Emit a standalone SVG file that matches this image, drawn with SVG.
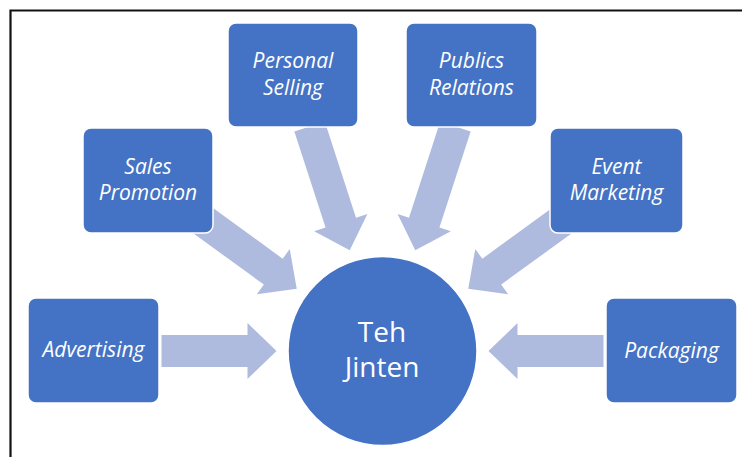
<svg xmlns="http://www.w3.org/2000/svg" width="742" height="457" viewBox="0 0 742 457">
<style>
.box{fill:#4472C4;stroke:#FFFFFF;stroke-width:1.5}
.arr{fill:#AFBBDE}
.lbl{font-family:"Open Sans","Liberation Sans",sans-serif;font-style:italic;font-size:21px;fill:#FFFFFF;text-anchor:middle}
.ctr{font-family:"Open Sans","Liberation Sans",sans-serif;font-size:28px;fill:#FFFFFF;text-anchor:middle}
</style>
<defs>
<polygon id="arrH" points="0,0 29,-28 29,-16 115,-16 115,16 29,16 29,28"/>
<polygon id="arrD" points="0,0 29,-28 29,-16 130,-16 130,16 29,16 29,28"/>
</defs>
<rect x="0" y="0" width="742" height="457" fill="#FFFFFF"/>
<path d="M10.5,457 V10.5 H742" fill="none" stroke="#111111" stroke-width="2.2"/>
<g id="connectors">
<use href="#arrH" class="arr" transform="translate(382.5,351) rotate(180) translate(106,0)"/>
<use href="#arrD" class="arr" transform="translate(382.5,351) rotate(216) translate(106,0)"/>
<use href="#arrD" class="arr" transform="translate(382.5,351) rotate(252) translate(106,0)"/>
<use href="#arrD" class="arr" transform="translate(382.5,351) rotate(288) translate(106,0)"/>
<use href="#arrD" class="arr" transform="translate(382.5,351) rotate(324) translate(106,0)"/>
<use href="#arrH" class="arr" transform="translate(382.5,351) rotate(0) translate(106,0)"/>
</g>
<g id="center">
<circle class="box" cx="382.5" cy="351" r="94.5"/>
<text class="ctr" x="382" y="342">Teh</text>
<text class="ctr" x="382" y="377">Jinten</text>
</g>
<g id="advertising">
<rect class="box" x="28" y="298" width="131" height="105" rx="8"/>
<text class="lbl" x="93.5" y="357">Advertising</text>
</g>
<g id="sales-promotion">
<rect class="box" x="83" y="128" width="130" height="105" rx="8"/>
<text class="lbl" x="148" y="174">Sales</text>
<text class="lbl" x="148" y="200">Promotion</text>
</g>
<g id="personal-selling">
<rect class="box" x="228" y="23" width="130" height="104" rx="8"/>
<text class="lbl" x="293" y="68">Personal</text>
<text class="lbl" x="293" y="95">Selling</text>
</g>
<g id="publics-relations">
<rect class="box" x="406" y="23" width="131" height="104" rx="8"/>
<text class="lbl" x="471.5" y="68">Publics</text>
<text class="lbl" x="471.5" y="95">Relations</text>
</g>
<g id="event-marketing">
<rect class="box" x="550" y="128" width="133" height="105" rx="8"/>
<text class="lbl" x="616.5" y="174">Event</text>
<text class="lbl" x="616.5" y="200">Marketing</text>
</g>
<g id="packaging">
<rect class="box" x="606" y="298" width="131" height="105" rx="8"/>
<text class="lbl" x="671.5" y="358">Packaging</text>
</g>
</svg>
